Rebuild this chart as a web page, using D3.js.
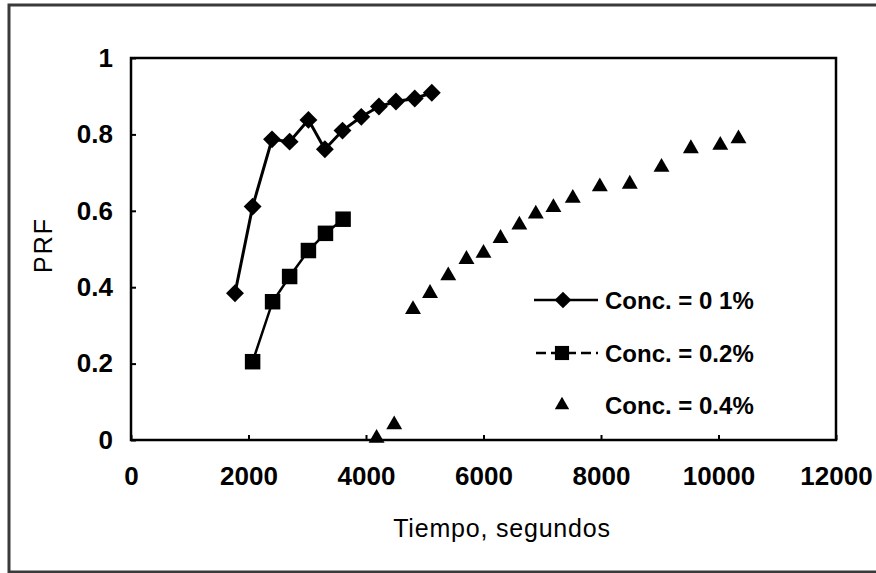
<!DOCTYPE html>
<html>
<head>
<meta charset="utf-8">
<script src="https://cdnjs.cloudflare.com/ajax/libs/d3/7.8.5/d3.min.js"></script>
<style>
  body { margin: 0; background: #fff; }
  text { font-family: "Liberation Sans", Arial, sans-serif; fill: #000; }
</style>
</head>
<body>
<div id="chart"></div>
<script>
// PRF vs time, three concentrations
var seriesNames = ["Conc. = 0 1%", "Conc. = 0.2%", "Conc. = 0.4%"];

var time01 = [1770, 2070, 2400, 2700, 3020, 3300, 3600, 3920, 4220, 4510, 4830, 5120];
var prf01  = [0.384, 0.611, 0.787, 0.781, 0.838, 0.761, 0.810, 0.846, 0.873, 0.886, 0.894, 0.909];

var time02 = [2070, 2410, 2700, 3020, 3310, 3610];
var prf02  = [0.205, 0.362, 0.428, 0.496, 0.541, 0.578];

var time04 = [4180, 4480, 4800, 5090, 5400, 5710, 6000, 6290, 6610, 6890, 7190, 7520, 7980, 8490, 9030, 9530, 10030, 10340];
var prf04  = [0.005, 0.04, 0.342, 0.384, 0.430, 0.473, 0.489, 0.528, 0.563, 0.592, 0.609, 0.633, 0.663, 0.670, 0.714, 0.763, 0.772, 0.789];

var xTicks = [0, 2000, 4000, 6000, 8000, 10000, 12000];
var yTicks = [0, 0.2, 0.4, 0.6, 0.8, 1];

function zip(xs, ys) {
  return xs.map(function(v, i) { return {t: v, p: ys[i]}; });
}

var width = 876, height = 573;

var x = d3.scaleLinear().domain([0, 12000]).range([131, 836]);
var y = d3.scaleLinear().domain([0, 1]).range([440, 58]);

var svg = d3.select("#chart").append("svg")
  .attr("width", width)
  .attr("height", height);

// outer border (top, left, bottom only)
svg.append("path")
  .attr("d", "M876,5 H9 V572 H876")
  .attr("fill", "none")
  .attr("stroke", "#3a3a3a")
  .attr("stroke-width", 3);

// plot frame
svg.append("rect")
  .attr("x", x(0))
  .attr("y", y(1))
  .attr("width", x(12000) - x(0))
  .attr("height", y(0) - y(1))
  .attr("fill", "none")
  .attr("stroke", "#000")
  .attr("stroke-width", 2.5);

// axes, ticks pointing inwards
var xAxis = svg.append("g")
  .attr("transform", "translate(0," + y(0) + ")")
  .call(d3.axisBottom(x).tickValues(xTicks).tickSize(-5).tickPadding(0).tickFormat(d3.format("d")));
xAxis.select(".domain").remove();
xAxis.selectAll("line").attr("stroke", "#000").attr("stroke-width", 2);
xAxis.selectAll("text")
  .attr("y", 45)
  .attr("dy", null)
  .style("font-size", "26px")
  .style("font-weight", "bold");

var yAxis = svg.append("g")
  .attr("transform", "translate(" + x(0) + ",0)")
  .call(d3.axisLeft(y).tickValues(yTicks).tickSize(-5).tickPadding(18).tickFormat(function(d) { return d === 0 || d === 1 ? d3.format("d")(d) : d3.format(".1f")(d); }));
yAxis.select(".domain").remove();
yAxis.selectAll("line").attr("stroke", "#000").attr("stroke-width", 2);
yAxis.selectAll("text")
  .style("font-size", "26px")
  .style("font-weight", "bold");

// axis titles
svg.append("text")
  .attr("x", 502)
  .attr("y", 537)
  .style("text-anchor", "middle")
  .style("font-size", "25px")
  .style("letter-spacing", "0.8px")
  .text("Tiempo, segundos");

svg.append("text")
  .attr("transform", "translate(52,245) rotate(-90)")
  .style("text-anchor", "middle")
  .style("font-size", "25px")
  .style("letter-spacing", "2px")
  .text("PRF");

var line = d3.line()
  .x(function(d) { return x(d.t); })
  .y(function(d) { return y(d.p); });

var diamond = d3.symbol().type(d3.symbolSquare).size(160);
var square = d3.symbol().type(d3.symbolSquare).size(240);
var triangle = d3.symbol().type(d3.symbolTriangle).size(110);

// 0.1 %
var s1 = zip(time01, prf01);
svg.append("path")
  .datum(s1)
  .attr("d", line)
  .attr("fill", "none")
  .attr("stroke", "#000")
  .attr("stroke-width", 3);
svg.selectAll(".diamond")
  .data(s1)
  .enter().append("path")
  .attr("class", "diamond")
  .attr("d", diamond)
  .attr("transform", function(d) { return "translate(" + x(d.t) + "," + y(d.p) + ") rotate(45)"; })
  .attr("fill", "#000");

// 0.2 %
var s2 = zip(time02, prf02);
svg.append("path")
  .datum(s2)
  .attr("d", line)
  .attr("fill", "none")
  .attr("stroke", "#000")
  .attr("stroke-width", 2.5);
svg.selectAll(".square")
  .data(s2)
  .enter().append("path")
  .attr("class", "square")
  .attr("d", square)
  .attr("transform", function(d) { return "translate(" + x(d.t) + "," + y(d.p) + ")"; })
  .attr("fill", "#000");

// 0.4 %
var s3 = zip(time04, prf04);
svg.selectAll(".triangle")
  .data(s3)
  .enter().append("path")
  .attr("class", "triangle")
  .attr("d", triangle)
  .attr("transform", function(d) { return "translate(" + x(d.t) + "," + y(d.p) + ")"; })
  .attr("fill", "#000");

// legend
var legendY = [300, 353, 405];
var legend = svg.append("g");

legend.append("line")
  .attr("x1", 534).attr("x2", 598).attr("y1", legendY[0]).attr("y2", legendY[0])
  .attr("stroke", "#000").attr("stroke-width", 2.5);
legend.append("path")
  .attr("d", d3.symbol().type(d3.symbolSquare).size(140))
  .attr("transform", "translate(563," + legendY[0] + ") rotate(45)");

legend.append("line")
  .attr("x1", 536).attr("x2", 598).attr("y1", legendY[1]).attr("y2", legendY[1])
  .attr("stroke", "#000").attr("stroke-width", 2.5)
  .attr("stroke-dasharray", "10,5");
legend.append("path")
  .attr("d", d3.symbol().type(d3.symbolSquare).size(200))
  .attr("transform", "translate(562," + legendY[1] + ")");

legend.append("path")
  .attr("d", d3.symbol().type(d3.symbolTriangle).size(90))
  .attr("transform", "translate(562," + legendY[2] + ")");

legend.selectAll(".leg-text")
  .data(seriesNames)
  .enter().append("text")
  .attr("class", "leg-text")
  .attr("x", 605)
  .attr("y", function(d, i) { return legendY[i] + 9; })
  .style("font-size", "24px")
  .style("font-weight", "bold")
  .text(function(d) { return d; });
</script>
</body>
</html>
